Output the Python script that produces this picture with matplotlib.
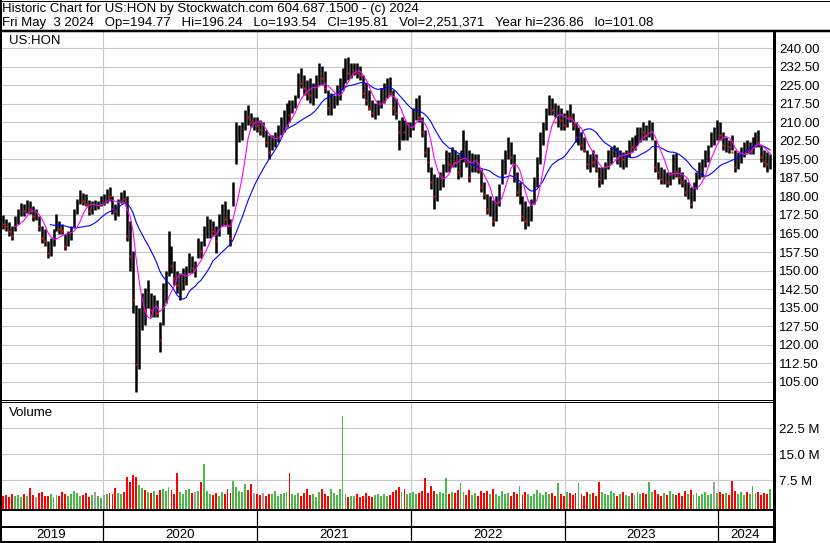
import matplotlib
matplotlib.use('Agg')
import matplotlib.pyplot as plt
from matplotlib.lines import Line2D
import numpy as np
import pandas as pd

plt.rcParams['font.family'] = ['Liberation Sans', 'DejaVu Sans']

# 周线数据: 2019-05-03 ~ 2024-05-03
week_start = '2019-05-03'

hi = [173, 172.5, 171, 169.5, 168, 172, 175, 177.5, 177, 178.5,
      178, 176, 175, 172, 168, 167, 162, 163, 167, 173,
      170, 169, 165, 166, 168, 175, 179, 182.5, 181.5, 181,
      178.5, 178, 178.5, 178, 180, 181, 183, 184, 180, 177,
      179, 182, 182.5, 180, 170, 158, 136, 135, 141, 143,
      146, 141, 140, 138, 129, 145, 150, 166, 160, 154,
      150, 149, 151, 152, 157, 156, 154, 163, 162, 168,
      172, 171, 170, 168, 173, 177, 178, 175, 171, 186,
      210, 209, 210, 215, 217, 214, 212, 212, 211, 210,
      207, 205, 205, 206, 209, 212, 215, 218, 219, 219,
      221, 230, 232, 229, 227, 228, 226, 229, 234, 233,
      231, 223, 222, 221, 225, 228, 232, 236, 236.5, 234,
      234, 234, 233, 229, 226, 223, 219, 218, 219, 224,
      226, 228, 228.5, 223, 220, 211, 212, 211, 210, 210,
      216, 220, 221, 212, 207, 200, 192, 189, 188, 190,
      193, 199, 198, 200, 199, 197, 199, 207, 203, 199,
      197.5, 197, 197, 191, 186, 181, 180, 178.5, 180, 185,
      195, 199, 204, 202, 197, 190, 186, 180, 178, 176,
      179, 188, 196, 206, 210, 216, 221, 220, 218, 217,
      216, 214, 215, 217.5, 214, 210, 208, 206, 204, 199,
      197, 199, 197, 192, 192, 194, 199, 200, 201, 200,
      199, 198, 199, 203, 204, 205, 208, 208, 210, 209,
      211, 210, 203, 194, 192, 191, 190, 190, 197, 197.5,
      192, 190, 187, 186, 184, 186, 190, 194, 195, 199,
      201, 206, 208, 211, 210, 206, 204, 203, 205, 199,
      198, 200, 202, 203, 202, 204, 206, 207, 201, 199,
      198, 197]

lo = [168, 167, 166, 164, 162.5, 166, 169, 172, 172, 173.5,
      173, 170, 170.5, 166, 161, 160, 155, 156, 160, 166,
      165, 165, 158.5, 160, 162.5, 167.5, 173, 177, 176.5, 176,
      172.5, 173, 174.5, 175, 176, 176.5, 177.5, 178, 173, 170.5,
      172, 177.5, 177.5, 162, 150, 133, 101, 110, 126, 128,
      135, 131, 131, 131, 117, 128, 137, 148, 149, 144,
      141, 138, 142, 144, 149, 149, 147.5, 155, 155, 160,
      163, 163, 164, 157, 164, 168, 168, 165, 160, 176,
      193, 202, 203, 207, 209, 208, 207, 206, 205, 204,
      200, 195, 199, 200, 202, 205, 206, 208, 210, 214,
      216, 220, 224, 221, 219, 218, 217, 220, 225, 225,
      222, 213, 213, 216, 217, 219, 223, 226, 227, 228,
      229, 228, 227, 220, 217, 215, 212, 211.5, 213, 216,
      218, 220, 221, 213, 211.5, 199, 203, 203, 203, 204,
      207, 211, 210, 204, 196, 190, 183, 175, 178, 182.7,
      184, 190, 190, 192, 192, 187, 188, 194, 192, 186,
      190, 190, 189.5, 182, 179, 173, 172, 168, 170, 176,
      185, 189, 195, 193, 186, 180, 177, 170, 167, 168,
      170, 177, 184, 193, 201, 207, 213, 213, 212, 208,
      207, 207, 208, 210, 207, 202, 201, 199, 198, 191,
      190, 192, 190, 184, 185, 187, 191, 193, 196, 193,
      192, 191, 192, 196, 198, 199, 201, 202, 203, 203,
      204, 203, 190, 187, 185, 185, 184, 184.5, 187, 188,
      185, 184, 180, 179, 175.5, 178, 183, 187, 188, 192,
      194, 200, 201, 203, 203, 199, 198, 197.5, 199, 190,
      191, 193.5, 196, 197.5, 197, 197, 200, 200, 194, 192,
      190, 191]

close = [170, 169, 168, 166, 164, 170, 173, 175, 174, 176,
         175, 172, 172, 168, 163, 162, 157, 161, 165, 169,
         167, 166, 160, 164, 166, 173, 177, 179, 178, 177,
         174, 176, 176, 177, 179, 179, 181, 180, 175, 174,
         177, 180, 179, 164, 156, 138, 112, 128, 135, 134,
         140, 134, 137, 133, 122, 141, 148, 153, 152, 147,
         144, 146, 148, 150, 154, 151, 151, 160, 158, 165,
         167, 168, 166, 162, 170, 173, 171, 168, 163, 184,
         200, 206, 207, 213, 212, 210, 210, 209, 207, 207,
         202, 198, 203, 204, 207, 209, 212, 214, 213, 217,
         219, 228, 226, 224, 222, 221, 224, 227, 230, 228,
         224, 216, 218, 219, 223, 225, 230, 232, 230, 231,
         232, 230, 229, 222, 219, 216, 214, 216, 218, 221,
         222, 225, 222, 216, 214, 206, 207, 206, 207, 208,
         214, 218, 212, 206, 198, 194, 186, 180, 185, 188,
         190, 197, 193, 198, 194, 190, 197, 200, 194, 188,
         193, 195, 191, 184, 181, 175, 177, 170, 177, 184,
         193, 196, 201, 196, 188, 182, 183, 172, 170, 174,
         177, 186, 194, 204, 208, 214, 217, 215, 210, 213,
         211, 209, 213, 212, 209, 204, 206, 201, 199, 193,
         195, 194, 191, 187, 190, 193, 197, 198, 199, 195,
         196, 195, 198, 201, 200, 204, 205, 207, 206, 205,
         207, 208, 192, 190, 187, 188, 186, 189, 195, 190,
         188, 186, 182, 183, 177, 184, 188, 191, 193, 197,
         199, 204, 204, 209, 205, 201, 203, 200, 198, 192,
         196, 197, 200, 199, 201, 202, 204, 202, 196, 194,
         193, 195.8]

# 成交量（百万股）
vol = [3.4, 2.8, 3.1, 2.6, 3.5, 2.9, 3.2, 2.7, 3.3, 3.0,
       5.2, 3.1, 2.7, 3.6, 3.9, 3.0, 2.9, 3.3, 2.6, 3.2,
       3.0, 4.0, 3.4, 2.8, 3.3, 4.4, 3.7, 2.9, 3.1, 3.6,
       2.7, 3.2, 3.9, 3.0, 2.4, 3.1, 3.4, 3.8, 3.5, 5.2,
       3.6, 3.3, 4.1, 8.5, 7.0, 9.0, 8.3, 6.0, 5.2, 4.6,
       4.1, 3.6, 4.4, 3.2, 4.7, 5.0, 4.2, 5.5, 4.6, 3.5,
       9.6, 4.0, 3.3, 4.5, 4.8, 3.6, 3.9, 4.2, 6.9, 12.2,
       4.3, 3.4, 3.2, 3.7, 3.0, 4.0, 3.5, 4.9, 3.6, 7.2,
       5.5, 4.4, 4.0, 6.2, 4.6, 6.2, 3.8, 3.3, 3.1, 3.6,
       2.8, 3.5, 3.3, 4.3, 3.0, 3.4, 3.7, 4.0, 9.6, 3.3,
       3.1, 3.8, 2.9, 3.6, 5.0, 3.2, 3.5, 2.7, 3.9, 5.0,
       3.3, 2.9, 5.0, 3.6, 3.1, 4.8, 26.0, 3.4, 2.6, 3.0,
       2.8, 3.3, 2.5, 3.0, 3.6, 2.9, 2.7, 3.2, 3.4, 3.0,
       3.5, 2.8, 3.1, 3.9, 4.6, 5.6, 4.0, 5.0, 3.3, 3.7,
       3.9, 3.4, 3.6, 4.2, 8.0, 3.8, 5.8, 4.4, 3.5, 4.0,
       3.7, 8.2, 3.4, 4.1, 3.6, 4.6, 6.6, 3.9, 3.2, 4.5,
       3.1, 3.6, 2.9, 4.3, 3.8, 4.4, 3.4, 4.8, 3.5, 3.0,
       4.2, 3.3, 3.6, 2.8, 3.9, 3.4, 5.8, 3.2, 4.0, 3.5,
       3.0, 3.4, 4.5, 3.7, 3.1, 4.0, 3.3, 3.6, 3.0, 6.6,
       3.5, 2.9, 4.1, 3.6, 3.2, 3.8, 6.6, 3.4, 3.0, 3.9,
       3.3, 3.7, 2.8, 6.9, 4.0, 3.5, 3.1, 4.4, 3.6, 3.0,
       3.4, 3.9, 3.2, 2.8, 3.6, 3.1, 4.0, 3.3, 3.7, 3.5,
       7.0, 4.1, 4.6, 3.4, 3.0, 3.8, 3.2, 4.3, 3.5, 3.1,
       3.6, 3.0, 4.2, 3.4, 4.5, 3.2, 3.7, 3.0, 3.3, 3.9,
       3.1, 3.5, 7.0, 3.6, 4.0, 3.3, 3.8, 3.1, 7.2, 4.4,
       3.5, 3.9, 3.2, 4.1, 3.4, 5.8, 3.6, 3.9, 3.2, 3.7,
       3.4, 4.9]

years = [2019, 2020, 2021, 2022, 2023, 2024]
price_ticks = np.arange(105, 240.1, 7.5)
vol_ticks = [7.5, 15.0, 22.5]

title1 = 'Historic Chart for US:HON by Stockwatch.com 604.687.1500 - (c) 2024'
title2 = ('Fri May  3 2024   Op=194.77   Hi=196.24   Lo=193.54   Cl=195.81   '
          'Vol=2,251,371   Year hi=236.86   lo=101.08')

dates = pd.date_range(week_start, periods=len(close), freq='W-FRI')
s_close = pd.Series(close, index=dates)
ma_fast = s_close.rolling(6).mean()
ma_slow = s_close.rolling(18).mean()
chg = s_close.diff().fillna(0).values

W, H = 830, 543
fs = 9.5
fig = plt.figure(figsize=(8.3, 5.43), dpi=100)
fig.patch.set_facecolor('white')

def fx(x):
    return x / W

def fy(y):
    return 1 - y / H

def px_axes(x0, y0, x1, y1):
    return fig.add_axes([fx(x0), fy(y1), (x1 - x0) / W, (y1 - y0) / H])

def fline(xs, ys, lw=1.0, color='black'):
    fig.add_artist(Line2D([fx(v) for v in xs], [fy(v) for v in ys],
                          lw=lw * 0.72, color=color, solid_capstyle='butt'))

x_lo = pd.Timestamp('2019-05-02')
x_hi = pd.Timestamp('2024-05-12')
year_starts = [pd.Timestamp(f'{y}-01-01') for y in years[1:]]
grid_c = '#c8c8c8'

# 价格图
ax = px_axes(0, 32, 774, 400)
ax.set_xlim(x_lo, x_hi)
ax.set_ylim(97.59, 246.6)
ax.set_axisbelow(True)
for s in ax.spines.values():
    s.set_visible(False)
ax.xaxis.set_visible(False)
ax.yaxis.tick_right()
ax.set_yticks(price_ticks)
ax.set_yticklabels([f'{v:.2f}' for v in price_ticks])
ax.tick_params(axis='y', length=0, pad=3.5, labelsize=fs)
ax.grid(axis='y', color=grid_c, lw=0.8)
for d in year_starts:
    ax.axvline(d, color=grid_c, lw=0.8, zorder=0)
ax.vlines(dates, lo, hi, color='black', lw=1.8)
down = chg < 0
ax.plot(dates[down], np.array(close)[down], ls='none', marker='s', ms=1.4,
        mew=0, color='red')
ax.plot(dates, ma_slow, color='#0000ff', lw=0.8)
ax.plot(dates, ma_fast, color='#ff00ff', lw=0.8)
ax.text(9 / 774, 1 - 9.5 / 368, 'US:HON', transform=ax.transAxes,
        fontsize=fs, va='center', ha='left')

# 成交量
v_lo, v_hi = -0.913, 29.84
axv = px_axes(0, 403, 774, 509)
axv.set_xlim(x_lo, x_hi)
axv.set_ylim(v_lo, v_hi)
axv.set_axisbelow(True)
for s in axv.spines.values():
    s.set_visible(False)
axv.xaxis.set_visible(False)
axv.yaxis.tick_right()
axv.set_yticks(vol_ticks)
axv.set_yticklabels([f'{v:.1f} M' for v in vol_ticks])
axv.tick_params(axis='y', length=0, pad=3.5, labelsize=fs)
axv.grid(axis='y', color=grid_c, lw=0.8)
for d in year_starts:
    axv.axvline(d, color=grid_c, lw=0.8, zorder=0)
vcolors = ['#4cb84c' if c > 0 else ('#ff0000' if c < 0 else '#a0a0a0') for c in chg]
axv.bar(dates, np.array(vol) - v_lo, bottom=v_lo, width=4.5, color=vcolors, lw=0)
axv.text(9 / 774, 1 - 10.5 / 106, 'Volume', transform=axv.transAxes,
         fontsize=fs, va='center', ha='left')

# 日期栏
axd = px_axes(0, 510, 774, 541)
axd.set_xlim(x_lo, x_hi)
axd.set_ylim(0, 1)
axd.axis('off')
axd.vlines(year_starts, 0, 1, color='black', lw=0.9)
bounds = [x_lo] + year_starts + [pd.Timestamp('2024-05-08')]
for i, y in enumerate(years):
    mid = bounds[i] + (bounds[i + 1] - bounds[i]) / 2
    axd.text(mid, 0.2, str(y), ha='center', va='center', fontsize=fs)

# 边框
fline([0, 830], [0.5, 0.5])
fline([829.5, 829.5], [0, 31])
fline([0, 830], [31, 31], lw=2.5)
fline([1, 1], [0, 542], lw=2)
fline([774, 774], [31, 543], lw=3)
fline([0, 774], [400.3, 400.3])
fline([0, 774], [402.3, 402.3])
fline([0, 774], [509.5, 509.5], lw=2)
fline([0, 774], [526.5, 526.5], lw=2)
fline([0, 774], [541.5, 541.5], lw=2)

fig.text(fx(2), fy(9), title1, fontsize=fs, va='center', ha='left')
fig.text(fx(2), fy(23), title2, fontsize=fs, va='center', ha='left')

fig.savefig('out.png', dpi=100)
